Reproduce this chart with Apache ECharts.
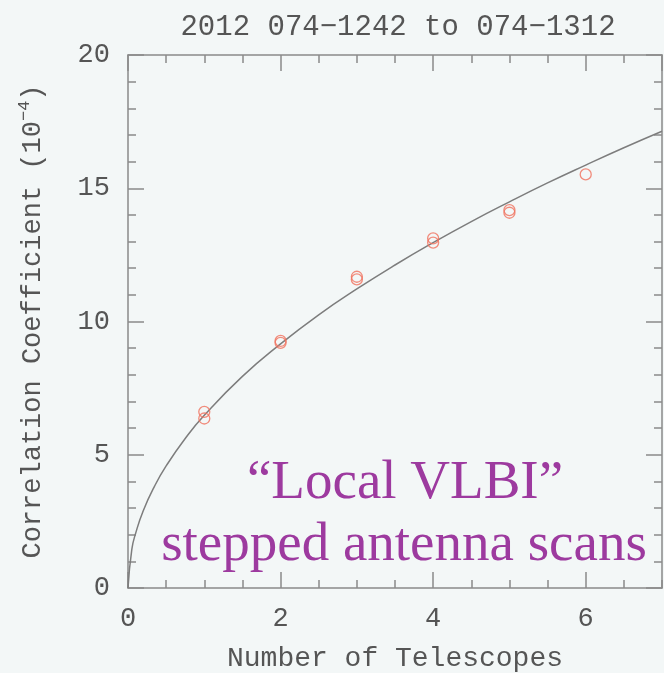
<!DOCTYPE html>
<html>
<head>
<meta charset="utf-8">
<script src="https://cdn.jsdelivr.net/npm/echarts@6/dist/echarts.min.js"></script>
<style>
html,body{margin:0;padding:0;background:#f3f7f7;}
#c{width:664px;height:673px;}
</style>
</head>
<body>
<div id="c"></div>
<script>
// Measured points: [number of telescopes, correlation coefficient (1e-4)]
const pointsX = [1, 1, 2, 2, 3, 3, 4, 4, 5, 5, 6];
const pointsY = [6.61, 6.36, 9.27, 9.20, 11.68, 11.58, 13.12, 12.96, 14.18, 14.08, 15.52];
// Fitted curve
const curveX = [0, 0.05, 0.1, 0.2, 0.35, 0.5, 0.75, 1, 1.5, 2, 2.5, 3, 3.5, 4, 4.5, 5, 5.5, 6, 6.5, 7];
const curveY = [0, 1.45, 2.05, 2.9, 3.83, 4.58, 5.61, 6.48, 7.94, 9.16, 10.25, 11.22, 12.12, 12.96, 13.75, 14.49, 15.2, 15.87, 16.52, 17.14];
const xTickLabels = ['0', '2', '4', '6'];
const yTickLabels = ['0', '5', '10', '15', '20'];
const titleText = '2012 074\u22121242 to 074\u22121312';
const xName = 'Number of Telescopes';
const noteLine1 = '\u201CLocal VLBI\u201D';
const noteLine2 = 'stepped antenna scans';

const axisColor = '#8a8a8a';
const textColor = '#555';
const mono = '"Liberation Mono", "DejaVu Sans Mono", monospace';

const chart = echarts.init(document.getElementById('c'), null, {renderer: 'canvas'});

function xAx(pos, interval, tickLen, showLabels, showLine) {
  return {
    type: 'value', position: pos, min: 0, max: 7, interval: interval,
    axisLine: {show: showLine, onZero: false, lineStyle: {color: axisColor, width: 1.5}},
    axisTick: {show: true, inside: true, length: tickLen, lineStyle: {color: axisColor, width: 1.5}},
    splitLine: {show: false},
    axisLabel: {
      show: showLabels, margin: 17, color: textColor, fontFamily: mono, fontSize: 27,
      showMaxLabel: false,
      formatter: v => (xTickLabels.indexOf(String(v)) >= 0 ? String(v) : '')
    },
    name: showLabels ? xName : '',
    nameLocation: 'middle', nameGap: 57,
    nameTextStyle: {color: textColor, fontFamily: mono, fontSize: 28}
  };
}

function yAx(pos, showLabels) {
  return {
    type: 'value', position: pos, min: 0, max: 20, interval: 5,
    axisLine: {show: true, onZero: false, lineStyle: {color: axisColor, width: 1.5}},
    axisTick: {show: true, inside: true, length: 16, lineStyle: {color: axisColor, width: 1.5}},
    minorTick: {show: true, splitNumber: 5, length: 8, lineStyle: {color: axisColor, width: 1.5}},
    splitLine: {show: false},
    minorSplitLine: {show: false},
    axisLabel: {
      show: showLabels, margin: 18, color: textColor, fontFamily: mono, fontSize: 27,
      formatter: v => (yTickLabels.indexOf(String(v)) >= 0 ? String(v) : '')
    },
    name: showLabels ? 'Correlation Coefficient (10{sup|\u22124})' : '',
    nameLocation: 'middle', nameGap: 78, nameRotate: 90,
    nameTextStyle: {
      color: textColor, fontFamily: mono, fontSize: 27, lineHeight: 34,
      rich: {sup: {fontFamily: mono, fontSize: 17, color: textColor, verticalAlign: 'top', lineHeight: 34}}
    }
  };
}

chart.setOption({
  backgroundColor: '#f3f7f7',
  animation: false,
  title: {
    text: titleText, left: 393, textAlign: 'center', top: 8,
    textStyle: {color: textColor, fontFamily: mono, fontSize: 29, fontWeight: 'normal'}
  },
  grid: {left: 128, right: 2, top: 55, bottom: 85, containLabel: false, outerBoundsMode: 'none'},
  xAxis: [
    xAx('bottom', 2, 16, true, true),
    xAx('bottom', 0.5, 8, false, false),
    xAx('top', 2, 16, false, true),
    xAx('top', 0.5, 8, false, false)
  ],
  yAxis: [yAx('left', true), yAx('right', false)],
  series: [
    {
      type: 'line', xAxisIndex: 0, yAxisIndex: 0, smooth: true, showSymbol: false,
      lineStyle: {color: '#7d7d7d', width: 1.5},
      data: curveX.map((x, i) => [x, curveY[i]]),
      z: 2
    },
    {
      type: 'scatter', xAxisIndex: 0, yAxisIndex: 0, symbol: 'circle', symbolSize: 11,
      itemStyle: {color: 'rgba(0,0,0,0)', borderColor: '#f0705c', borderWidth: 1.3},
      data: pointsX.map((x, i) => [x, pointsY[i]]),
      z: 3
    }
  ],
  graphic: [
    {
      type: 'text', x: 405, y: 511, z: 10,
      style: {text: noteLine1, fill: '#9d3a9f', font: '55px "Liberation Serif", "DejaVu Serif", serif',
              align: 'center', verticalAlign: 'bottom'}
    },
    {
      type: 'text', x: 404, y: 573, z: 10,
      style: {text: noteLine2, fill: '#9d3a9f', font: '55px "Liberation Serif", "DejaVu Serif", serif',
              align: 'center', verticalAlign: 'bottom'}
    }
  ]
});
</script>
</body>
</html>
